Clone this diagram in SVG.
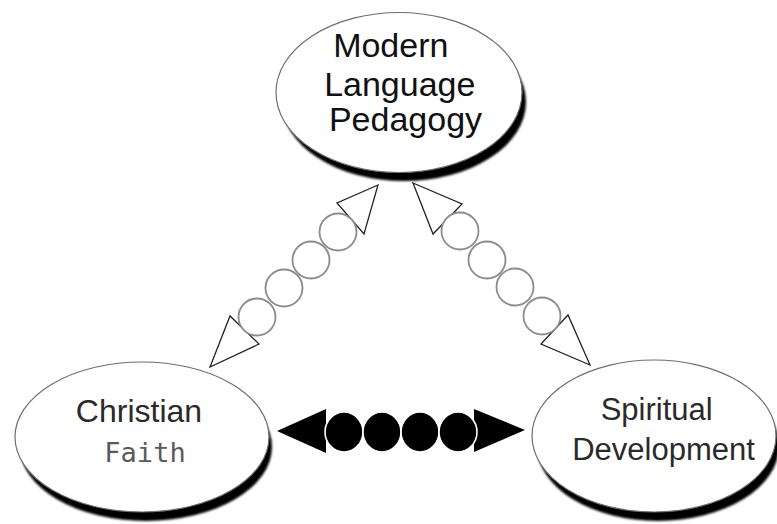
<svg xmlns="http://www.w3.org/2000/svg" width="777" height="524" viewBox="0 0 777 524">
  <style>
    .shadow { fill: #000; filter: url(#soft); }
    .face { fill: #fff; stroke: #6e6e6e; stroke-width: 1.2; }
    .label { font-family: "Liberation Sans", Arial, sans-serif; text-anchor: middle; }
    .hand { font-family: "DejaVu Sans Mono", monospace; text-anchor: middle; fill: #5a5a5a; }
    .open-head { fill: #fff; stroke: #222; stroke-width: 1.3; stroke-linejoin: miter; }
    .bead { fill: #fff; stroke: #8c8c8c; stroke-width: 1.8; }
    .solid-head { fill: #000; }
    .solid-bead { fill: #000; stroke: #fff; stroke-width: 1.6; }
  </style>
  <defs>
    <filter id="soft" x="-10%" y="-10%" width="120%" height="120%">
      <feGaussianBlur stdDeviation="0.9"/>
    </filter>
  </defs>

  <rect width="777" height="524" fill="#fff"/>

  <!-- connectors: two open double-headed bead chains and one solid chain -->
  <g id="connectors">
    <!-- pedagogy <-> faith -->
    <g id="link-pedagogy-faith">
      <polygon class="open-head" points="378,185 337,203 364,234"/>
      <polygon class="open-head" points="210,367 230,316 259,344"/>
      <circle class="bead" cx="338" cy="232" r="18.5"/>
      <circle class="bead" cx="311" cy="260" r="18.5"/>
      <circle class="bead" cx="284" cy="288" r="18.5"/>
      <circle class="bead" cx="257" cy="317" r="18.5"/>
    </g>
    <!-- pedagogy <-> development -->
    <g id="link-pedagogy-development">
      <polygon class="open-head" points="413,183 462,204 433,234"/>
      <polygon class="open-head" points="590,365 541,344 568,315"/>
      <circle class="bead" cx="460" cy="231" r="18.5"/>
      <circle class="bead" cx="487" cy="260" r="18.5"/>
      <circle class="bead" cx="515" cy="287" r="18.5"/>
      <circle class="bead" cx="542" cy="316" r="18.5"/>
    </g>
    <!-- faith <-> development -->
    <g id="link-faith-development">
      <polygon class="solid-head" points="277,431 326,409 326,453"/>
      <polygon class="solid-head" points="474,409 525,430 474,452"/>
      <ellipse class="solid-bead" cx="344" cy="432" rx="19" ry="20"/>
      <ellipse class="solid-bead" cx="382" cy="432" rx="19" ry="20"/>
      <ellipse class="solid-bead" cx="420" cy="432" rx="19" ry="20"/>
      <ellipse class="solid-bead" cx="458" cy="432" rx="19" ry="20"/>
    </g>
  </g>

  <g id="node-pedagogy">
    <ellipse class="shadow" cx="404" cy="102" rx="122" ry="79"/>
    <ellipse class="face" cx="399" cy="92.5" rx="123" ry="80"/>
    <text class="label" font-size="34" fill="#111">
      <tspan x="395.5" y="57">Modern</tspan>
      <tspan x="404.5" y="96">Language</tspan>
      <tspan x="405.5" y="131">Pedagogy</tspan>
    </text>
  </g>

  <g id="node-faith">
    <ellipse class="shadow" cx="146" cy="447" rx="126" ry="74"/>
    <ellipse class="face" cx="142" cy="437" rx="127" ry="75"/>
    <text class="label" font-size="32" fill="#2a2a2a" x="139" y="422">Christian</text>
    <text class="hand" font-size="27" x="145" y="462">Faith</text>
  </g>

  <g id="node-development">
    <ellipse class="shadow" cx="658" cy="446" rx="121" ry="75"/>
    <ellipse class="face" cx="654" cy="436" rx="122" ry="76"/>
    <text class="label" font-size="31" fill="#2a2a2a">
      <tspan x="661" y="420">Spiritual</tspan>
      <tspan x="663.5" y="460">Development</tspan>
    </text>
  </g>
</svg>
